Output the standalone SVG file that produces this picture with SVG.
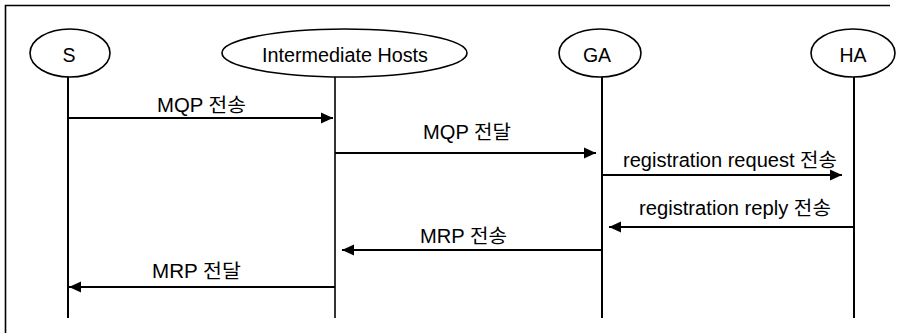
<svg xmlns="http://www.w3.org/2000/svg" width="898" height="333" viewBox="0 0 898 333">
<style>
.node ellipse{fill:#fff;stroke:#000;stroke-width:1.6}
.life{stroke:#000;stroke-width:2}
.msg{stroke:#000;stroke-width:2;fill:none;marker-end:url(#ah)}
text{font-family:"Liberation Sans","Noto Sans CJK KR",Arial,sans-serif;font-size:19.5px;fill:#000}
.nl{text-anchor:middle}
</style>
<defs>
<marker id="ah" markerUnits="userSpaceOnUse" markerWidth="14" markerHeight="12" refX="12" refY="6" orient="auto">
<path d="M0,0.5 L12,6 L0,11.5 Z" fill="#000"/>
</marker>
</defs>
<rect width="898" height="333" fill="#fff"/>
<path d="M5.5,333 V5.5 H890" fill="none" stroke="#000" stroke-width="1.6"/>
<g id="node-S" class="node">
<ellipse cx="70" cy="53" rx="40" ry="24"/>
<line class="life" x1="68" y1="77" x2="68" y2="318"/>
<text class="nl" x="69" y="62">S</text>
</g>
<g id="node-IH" class="node">
<ellipse cx="344.5" cy="53" rx="122.5" ry="24"/>
<line class="life" x1="335" y1="77" x2="335" y2="318" style="stroke-width:1.6"/>
<text x="262" y="62" textLength="166" lengthAdjust="spacingAndGlyphs">Intermediate Hosts</text>
</g>
<g id="node-GA" class="node">
<ellipse cx="600" cy="53" rx="41" ry="24"/>
<line class="life" x1="602" y1="77" x2="602" y2="318"/>
<text class="nl" x="597" y="62">GA</text>
</g>
<g id="node-HA" class="node">
<ellipse cx="853" cy="53" rx="42" ry="24"/>
<line class="life" x1="854" y1="77" x2="854" y2="318"/>
<text class="nl" x="853" y="62">HA</text>
</g>
<g id="connectors">
<line class="msg" x1="68" y1="118" x2="333" y2="118"/>
<text x="157" y="112" textLength="89" lengthAdjust="spacingAndGlyphs">MQP 전송</text>
<line class="msg" x1="335" y1="153" x2="596" y2="153"/>
<text x="423" y="139" textLength="88" lengthAdjust="spacingAndGlyphs">MQP 전달</text>
<line class="msg" x1="602" y1="175" x2="842" y2="175"/>
<text x="623" y="167" textLength="214" lengthAdjust="spacingAndGlyphs">registration request 전송</text>
<line class="msg" x1="854" y1="227" x2="609" y2="227"/>
<text x="639" y="215" textLength="192" lengthAdjust="spacingAndGlyphs">registration reply 전송</text>
<line class="msg" x1="602" y1="250" x2="342" y2="250"/>
<text x="420" y="243" textLength="87" lengthAdjust="spacingAndGlyphs">MRP 전송</text>
<line class="msg" x1="335" y1="287" x2="69" y2="287"/>
<text x="152" y="278" textLength="89" lengthAdjust="spacingAndGlyphs">MRP 전달</text>
</g>
</svg>
